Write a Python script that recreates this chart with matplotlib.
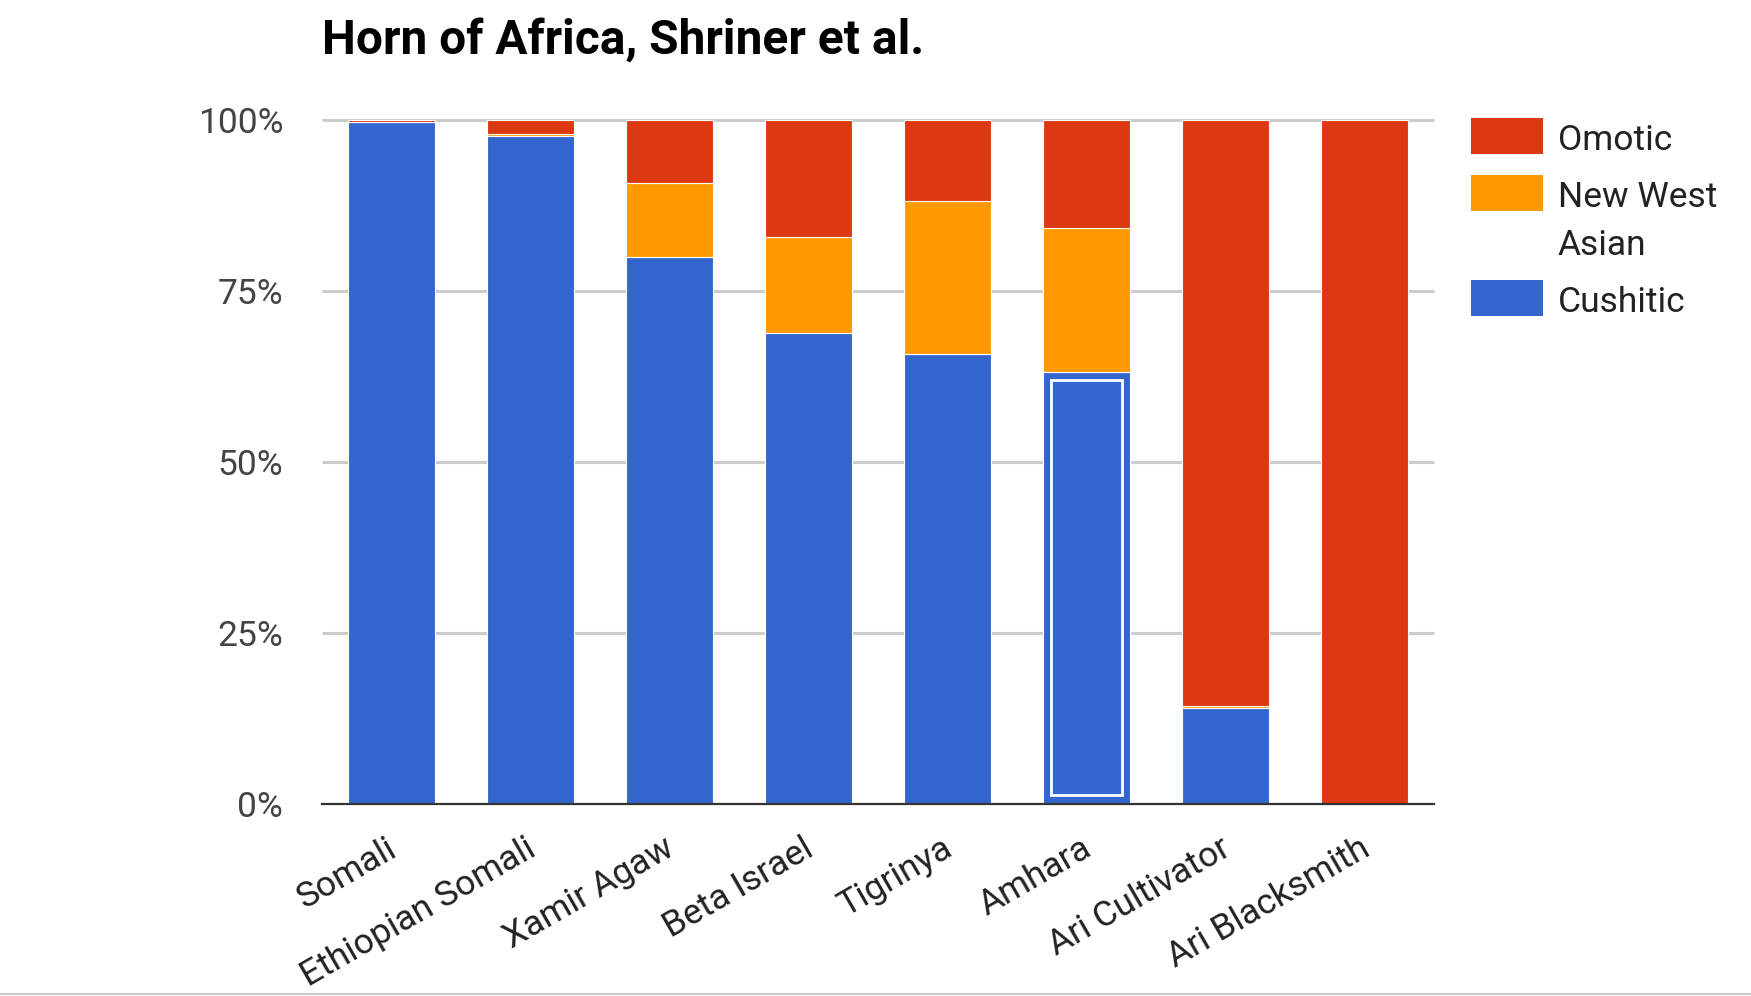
import matplotlib
matplotlib.use("Agg")
import matplotlib.pyplot as plt
import matplotlib.transforms as mtransforms
from matplotlib.patches import Rectangle
from matplotlib.lines import Line2D

plt.rcParams["font.family"] = ["Roboto", "DejaVu Sans"]

# data (percent of ancestry per population)
populations = ["Somali", "Ethiopian Somali", "Xamir Agaw", "Beta Israel",
               "Tigrinya", "Amhara", "Ari Cultivator", "Ari Blacksmith"]
cushitic = [99.6, 97.6, 79.9, 68.9, 65.8, 63.1, 14.0, 0.0]
new_west_asian = [0.0, 0.3, 10.9, 14.0, 22.3, 21.1, 0.3, 0.0]
omotic = [0.4, 2.1, 9.2, 17.1, 11.9, 15.8, 85.7, 100.0]
y_ticks = [0, 25, 50, 75, 100]
highlighted = "Amhara"

series = [("Cushitic", cushitic, "#3366CC"),
          ("New West\nAsian", new_west_asian, "#FF9900"),
          ("Omotic", omotic, "#DC3912")]

W, H = 1751, 996
fig = plt.figure(figsize=(W / 100, H / 100), dpi=100)
ax = fig.add_axes([322 / W, 1 - 804 / H, (1434 - 322) / W, (804 - 119.7) / H])


def fx(px):
    return px / W


def fy(px):
    return 1 - px / H


x = list(range(len(populations)))
bottom = [0.0] * len(populations)
bar_sets = {}
for name, vals, color in series:
    bars = ax.bar(x, vals, width=0.62, bottom=bottom, color=color,
                  edgecolor="white", linewidth=0.8, zorder=2)
    bar_sets[name] = bars
    bottom = [b + v for b, v in zip(bottom, vals)]

ax.set_xlim(-0.5, len(populations) - 0.5)
ax.set_ylim(0, 100)
for s in ax.spines.values():
    s.set_visible(False)

ax.hlines(y_ticks[1:], -0.5, len(populations) - 0.5, colors="#cccccc",
          linewidth=2.2, zorder=1, clip_on=False)
ax.axhline(0, color="#333333", linewidth=1.6, zorder=3, clip_on=False)

ax.set_yticks(y_ticks)
ax.set_yticklabels([f"{t}%" for t in y_ticks])
ax.tick_params(axis="y", length=0, pad=28, labelsize=25.5, labelcolor="#444444")

ax.set_xticks(x)
ax.set_xticklabels(populations, rotation=30, ha="right", rotation_mode="anchor")
ax.tick_params(axis="x", length=0, pad=20, labelsize=25.5, labelcolor="#222222")
shift = mtransforms.ScaledTranslation(-6 / 100, 0, fig.dpi_scale_trans)
for lab in ax.get_xticklabels():
    lab.set_transform(lab.get_transform() + shift)

# selection outline on the highlighted bar
fig.canvas.draw()
hb = bar_sets["Cushitic"][populations.index(highlighted)].get_window_extent()
inset = 7.5
fig.patches.append(Rectangle((hb.x0 + inset, hb.y0 + inset + 2),
                             hb.width - 2 * inset, hb.height - 2 * inset - 2,
                             fill=False, edgecolor="white", linewidth=2.0,
                             transform=None, figure=fig, zorder=5))

# title
fig.text(fx(322), fy(54), "Horn of Africa, Shriner et al.", fontsize=34.5,
         fontweight="bold", color="black", ha="left", va="baseline")

# legend (top to bottom: Omotic, New West Asian, Cushitic)
sw_top = 118.3
for name, vals, color in reversed(series):
    fig.patches.append(Rectangle((fx(1470.7), fy(sw_top + 36)), fx(72), 36 / H,
                                 facecolor=color, edgecolor="none",
                                 transform=fig.transFigure, figure=fig))
    base = sw_top + 31.7
    lines = name.split("\n")
    for i, line in enumerate(lines):
        fig.text(fx(1558), fy(base + 48 * i), line, fontsize=25.5,
                 color="#222222", ha="left", va="baseline")
    sw_top += 57 + 48 * (len(lines) - 1)

fig.add_artist(Line2D([0, 1], [fy(994), fy(994)], color="#cccccc",
                      linewidth=1.5, transform=fig.transFigure))

fig.savefig("out.png", dpi=100)
